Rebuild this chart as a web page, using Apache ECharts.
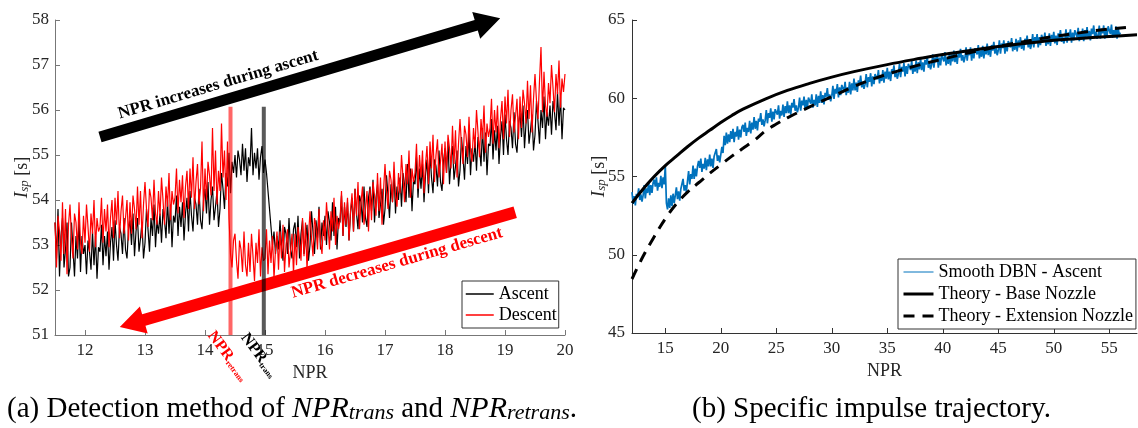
<!DOCTYPE html>
<html><head><meta charset="utf-8">
<script src="https://cdn.jsdelivr.net/npm/echarts@6/dist/echarts.min.js"></script>
<style>html,body{margin:0;padding:0;background:#fff;}#c{width:1138px;height:428px;}</style>
</head><body><div id="c"></div>
<script>
// ---------- data ----------
// (a) left panel: sampled every 0.025 NPR from 11.5 to 20
const nprLeftStart = 11.5;
const nprLeftStep = 0.025;
const ascentIsp = [
53.5,52.7,53.8,52.3,53.2,53.6,52.5,52.9,53.5,52.3,
52.5,53.5,52.9,52.3,53.2,52.7,53.6,52.4,53.2,52.8,
53.0,52.35,53.1,52.85,52.45,53.3,52.55,53.2,52.25,52.95,
52.85,53.45,52.55,53.2,52.75,53.3,52.45,53.05,53.4,52.65,
53.55,53.0,52.65,53.4,53.25,52.8,53.6,52.9,52.7,53.35,
53.55,53.0,53.7,52.75,53.3,53.6,52.85,53.15,53.5,52.7,
53.05,53.8,53.35,52.85,53.6,53.2,53.9,52.95,53.55,53.25,
53.7,53.05,53.8,53.55,53.15,54.0,53.25,53.9,52.95,53.65,
53.5,54.1,53.2,53.85,53.4,53.95,53.1,53.7,54.05,53.3,
54.2,53.65,53.3,54.05,53.9,53.45,54.25,53.55,53.35,54.0,
54.25,53.7,54.4,53.45,54.0,54.3,53.55,53.85,54.2,53.4,
53.8,54.6,54.25,53.8,54.6,54.3,55.05,54.15,54.85,54.6,
55.0,54.5,55.1,54.9,54.55,55.25,54.65,55.15,54.4,54.95,
54.75,55.6,54.55,55.05,54.7,55.15,54.45,54.95,55.2,54.6,
54.9,54.6,54.2,53.8,53.4,53.0,53.3,52.8,53.2,52.9,
53.55,53.0,52.65,53.4,53.25,52.8,53.6,52.9,52.7,53.35,
53.5,52.95,53.65,52.7,53.25,53.55,52.8,53.1,53.45,52.65,
53.0,53.75,53.3,52.8,53.55,53.15,53.85,52.9,53.5,53.2,
53.65,53.0,53.75,53.5,53.1,53.95,53.2,53.85,52.9,53.6,
53.5,54.1,53.2,53.85,53.4,53.95,53.1,53.7,54.05,53.3,
54.25,53.7,53.35,54.1,53.95,53.5,54.3,53.6,53.4,54.05,
54.3,53.75,54.45,53.5,54.05,54.35,53.6,53.9,54.25,53.45,
53.8,54.55,54.1,53.6,54.35,53.95,54.65,53.7,54.3,54.0,
54.5,53.85,54.6,54.35,53.95,54.8,54.05,54.7,53.75,54.45,
54.35,54.95,54.05,54.7,54.25,54.8,53.95,54.55,54.9,54.15,
55.05,54.5,54.15,54.9,54.75,54.3,55.1,54.4,54.2,54.85,
55.15,54.6,55.3,54.35,54.9,55.2,54.45,54.75,55.1,54.3,
54.65,55.4,54.95,54.45,55.2,54.8,55.5,54.55,55.15,54.85,
55.3,54.65,55.4,55.15,54.75,55.6,54.85,55.5,54.55,55.25,
55.2,55.8,54.9,55.55,55.1,55.65,54.8,55.4,55.75,55.0,
55.9,55.35,55.0,55.75,55.6,55.15,55.95,55.25,55.05,55.7,
55.95,55.4,56.1,55.15,55.7,56.0,55.25,55.55,55.9,55.1,
55.45,56.2,55.75,55.25,56.0,55.6,56.3,55.35,55.95,55.65,
56.1,55.45,56.2,55.95,55.55,56.4,55.65,56.3,55.35,56.05,
56.0];
const descentIsp = [
53.5,52.5,53.65,53.3,52.65,53.95,52.8,53.8,52.35,53.45,
53.9,53.15,52.7,53.7,53.5,52.9,53.95,53.05,52.8,53.65,
53.05,53.9,53.4,52.85,53.7,53.25,54.0,52.95,53.6,53.3,
53.4,54.05,53.05,53.8,53.3,53.9,52.95,53.6,54.0,53.15,
54.05,53.45,54.2,53.15,53.75,54.1,53.25,53.6,54.0,53.1,
53.95,53.25,54.1,53.8,53.35,54.3,53.45,54.2,53.15,53.9,
54.4,53.8,53.4,54.25,54.05,53.55,54.45,53.7,53.45,54.2,
53.65,54.5,54.0,53.45,54.3,53.85,54.6,53.55,54.2,53.9,
54.05,54.7,53.7,54.45,53.95,54.55,53.6,54.3,54.65,53.8,
54.7,54.05,54.95,53.8,54.4,54.8,53.9,54.25,55.3,53.75,
54.7,54.0,54.85,54.55,54.1,55.6,54.2,55.1,53.9,54.65,
54.2,55.7,54.5,55.1,54.0,55.3,53.6,52.8,52.5,53.1,
53.25,52.65,52.25,53.1,52.9,52.4,53.3,52.55,52.3,53.05,
52.4,53.25,52.75,52.2,53.05,52.6,53.35,52.3,52.95,52.65,
52.7,53.35,52.35,53.1,52.6,53.2,52.25,52.9,53.3,52.45,
53.3,52.7,53.45,52.4,53.0,53.35,52.5,52.85,53.25,52.35,
53.25,52.55,53.4,53.1,52.65,53.6,52.75,53.5,52.45,53.2,
53.75,53.15,52.75,53.6,53.4,52.9,53.8,53.05,52.8,53.55,
53.1,53.95,53.45,52.9,53.75,53.3,54.05,53.0,53.65,53.35,
53.55,54.2,53.2,53.95,53.45,54.05,53.1,53.75,54.15,53.3,
54.25,53.65,54.4,53.35,53.95,54.3,53.45,53.8,54.2,53.3,
54.25,53.55,54.4,54.1,53.65,54.6,53.75,54.5,53.45,54.2,
54.8,54.2,53.8,54.65,54.45,53.95,54.85,54.1,53.85,54.6,
54.15,55.0,54.5,53.95,54.8,54.35,55.1,54.05,54.7,54.4,
54.6,55.25,54.25,55.0,54.5,55.1,54.15,54.8,55.2,54.35,
55.3,54.7,55.45,54.4,55.0,55.35,54.5,54.85,55.25,54.35,
55.3,54.6,55.45,55.15,54.7,55.65,54.8,55.55,54.5,55.25,
55.8,55.2,54.8,55.65,55.45,54.95,55.85,55.1,54.85,55.6,
55.15,56.0,55.5,54.95,55.8,55.35,56.1,55.05,55.7,55.4,
55.6,56.25,55.25,56.0,55.5,56.1,55.15,55.8,56.2,55.35,
56.3,55.7,56.45,55.4,56.0,56.35,55.5,55.85,56.25,55.35,
56.3,55.6,56.45,56.15,55.7,56.65,55.8,56.55,55.5,56.25,
56.8,56.2,55.8,56.65,57.4,55.95,56.85,56.1,55.85,56.6,
56.15,57.0,56.5,55.95,56.8,56.35,57.1,56.05,56.7,56.4,
56.8];
const nprTrans = 14.98;
const nprRetrans = 14.425;
const markerIspRange = [51, 56.07];
const leftXTicks = [12,13,14,15,16,17,18,19,20];
// annotation arrows (data coordinates: [NPR, Isp])
const ascentArrow = [[12.25,55.4],[18.92,58.04]];
const descentArrow = [[19.17,53.73],[12.58,51.18]];
const ascentTextAt = [14.22,56.56];
const descentTextAt = [17.2,52.6];

// (b) right panel: sampled every 0.1 NPR from 12 to 56
const nprRightStart = 12;
const nprRightStep = 0.1;
const dbnIsp = [
54.0,53.25,53.75,53.15,53.9,53.7,54.25,53.5,53.85,53.4,
53.8,54.45,53.6,54.25,53.95,54.65,53.8,54.45,53.95,54.6,
54.8,54.35,54.95,54.1,54.6,54.35,55.05,54.25,54.95,54.5,
55.7,53.3,52.9,53.6,53.0,53.8,53.1,53.9,53.3,53.8,
54.3,53.55,54.05,53.45,54.2,54.3,54.85,54.1,54.45,54.0,
54.7,55.35,54.5,55.15,54.85,55.7,54.85,55.5,55.0,55.65,
56.0,55.55,56.15,55.3,55.8,55.5,56.2,55.4,56.1,55.65,
56.4,55.65,56.15,55.55,56.3,56.2,56.75,56.0,56.35,55.9,
56.4,56.9,56.5,57.6,57.0,57.8,57.1,57.7,57.2,57.9,
57.4,58.05,57.2,57.85,57.55,58.2,57.35,58.0,57.5,58.15,
58.3,57.85,58.45,57.6,58.1,57.85,58.55,57.75,58.45,58.0,
58.8,58.05,58.55,57.95,58.7,58.5,59.05,58.3,58.65,58.2,
58.6,59.25,58.4,59.05,58.75,59.35,58.5,59.15,58.65,59.3,
59.4,58.95,59.55,58.7,59.2,58.9,59.6,58.8,59.5,59.05,
59.8,59.05,59.55,58.95,59.7,59.4,59.95,59.2,59.55,59.1,
59.4,60.05,59.2,59.85,59.55,60.1,59.25,59.9,59.4,60.05,
60.1,59.65,60.25,59.4,59.9,59.55,60.25,59.45,60.15,59.7,
60.45,59.7,60.2,59.6,60.35,60.1,60.65,59.9,60.25,59.8,
60.15,60.8,59.95,60.6,60.3,60.9,60.05,60.7,60.2,60.85,
60.9,60.45,61.05,60.2,60.7,60.35,61.05,60.25,60.95,60.5,
61.25,60.5,61.0,60.4,61.15,60.9,61.45,60.7,61.05,60.6,
60.9,61.55,60.7,61.35,61.05,61.6,60.75,61.4,60.9,61.55,
61.65,61.2,61.8,60.95,61.45,61.1,61.8,61.0,61.7,61.25,
61.95,61.2,61.7,61.1,61.85,61.55,62.1,61.35,61.7,61.25,
61.55,62.2,61.35,62.0,61.7,62.25,61.4,62.05,61.55,62.2,
62.25,61.8,62.4,61.55,62.05,61.7,62.4,61.6,62.3,61.85,
62.55,61.8,62.3,61.7,62.45,62.15,62.7,61.95,62.3,61.85,
62.15,62.8,61.95,62.6,62.3,62.8,61.95,62.6,62.1,62.75,
62.8,62.35,62.95,62.1,62.6,62.2,62.9,62.1,62.8,62.35,
63.05,62.3,62.8,62.2,62.95,62.6,63.15,62.4,62.75,62.3,
62.6,63.25,62.4,63.05,62.75,63.25,62.4,63.05,62.55,63.2,
63.25,62.8,63.4,62.55,63.05,62.65,63.35,62.55,63.25,62.8,
63.5,62.75,63.25,62.65,63.4,63.05,63.6,62.85,63.2,62.75,
63.05,63.7,62.85,63.5,63.2,63.7,62.85,63.5,63.0,63.65,
63.7,63.25,63.85,63.0,63.5,63.1,63.8,63.0,63.7,63.25,
63.9,63.15,63.65,63.05,63.8,63.45,64.0,63.25,63.6,63.15,
63.45,64.1,63.25,63.9,63.6,64.1,63.25,63.9,63.4,64.05,
64.05,63.6,64.2,63.35,63.85,63.45,64.15,63.35,64.05,63.6,
64.25,63.5,64.0,63.4,64.15,63.8,64.35,63.6,63.95,63.5,
63.75,64.4,63.55,64.2,63.9,64.4,63.55,64.2,63.7,64.35,
64.35,63.9,64.5,63.65,64.15,63.75,64.45,63.65,64.35,63.9,
64.55,63.8,64.3,63.7,64.45,64.1,64.65,63.9,64.25,63.8,
64.0,64.65,63.8,64.45,64.15,64.65,63.8,64.45,63.95,64.6,
64.55,64.1,64.7,63.85,64.35,63.9,64.6,63.8,64.5,64.05,
64.2];
const baseNpr = [12,13,14,15,16,17,18,19,20,21,22,24,26,28,30,32,35,38,40,42,45,48,50,52,55,57.5];
const baseIsp = [53.3,54.2,55.0,55.7,56.3,56.9,57.45,57.95,58.45,58.9,59.3,59.95,60.5,60.95,61.35,61.7,62.15,62.55,62.8,63.0,63.3,63.55,63.7,63.8,63.95,64.05];
const extNpr = [12,13,14,15,16,17,18,19,20,21,22,23,24,25,26,28,30,32,34,36,38,40,42,44,46,48,50,52,54,56.9];
const extIsp = [48.45,49.9,51.15,52.3,53.25,54.0,54.6,55.2,55.75,56.3,56.8,57.3,57.9,58.35,58.75,59.45,60.1,60.75,61.3,61.75,62.15,62.5,62.85,63.15,63.45,63.7,63.95,64.15,64.35,64.55];
const rightXTicks = [15,20,25,30,35,40,45,50,55];

// ---------- chart ----------
const serif = 'Liberation Serif';
const chart = echarts.init(document.getElementById('c'));
const pairs = (start, step, arr) => arr.map((v, i) => [Math.round((start + i * step) * 1000) / 1000, v]);
const zip = (xs, ys) => xs.map((x, i) => [x, ys[i]]);

const axisLbl = (ticks) => ({customValues: ticks, color: '#262626', fontFamily: serif, fontSize: 17, margin: 7});
const lineCol = ['#777', '#333'];

const option = {
  animation: false,
  backgroundColor: '#fff',
  grid: [
    {left: 55, top: 20, width: 510, height: 315},
    {left: 632, top: 20, width: 505, height: 313}
  ],
  xAxis: [
    {gridIndex: 0, type: 'value', min: 11.5, max: 20,
     name: 'NPR', nameLocation: 'middle', nameGap: 28,
     nameTextStyle: {fontFamily: serif, fontSize: 18, color: '#262626'},
     axisLine: {show: true, lineStyle: {color: lineCol[0]}},
     axisTick: {show: true, inside: true, length: 5, customValues: leftXTicks, lineStyle: {color: lineCol[0]}},
     axisLabel: axisLbl(leftXTicks), splitLine: {show: false}},
    {gridIndex: 1, type: 'value', min: 12, max: 57.5,
     name: 'NPR', nameLocation: 'middle', nameGap: 28,
     nameTextStyle: {fontFamily: serif, fontSize: 18, color: '#262626'},
     axisLine: {show: true, lineStyle: {color: lineCol[1]}},
     axisTick: {show: true, inside: true, length: 5, customValues: rightXTicks, lineStyle: {color: lineCol[1]}},
     axisLabel: axisLbl(rightXTicks), splitLine: {show: false}}
  ],
  yAxis: [
    {gridIndex: 0, type: 'value', min: 51, max: 58, interval: 1,
     axisLine: {show: true, lineStyle: {color: lineCol[0]}},
     axisTick: {show: true, inside: true, length: 5, lineStyle: {color: lineCol[0]}},
     axisLabel: {color: '#262626', fontFamily: serif, fontSize: 17, margin: 6}, splitLine: {show: false}},
    {gridIndex: 1, type: 'value', min: 45, max: 65, interval: 5,
     axisLine: {show: true, lineStyle: {color: lineCol[1]}},
     axisTick: {show: true, inside: true, length: 5, lineStyle: {color: lineCol[1]}},
     axisLabel: {color: '#262626', fontFamily: serif, fontSize: 17, margin: 7}, splitLine: {show: false}}
  ],
  legend: [
    {data: [{name: 'Ascent', lineStyle: {width: 1.5}}, {name: 'Descent', lineStyle: {width: 1.5}}],
     orient: 'vertical', left: 462, top: 281, itemWidth: 28, itemHeight: 14, itemGap: 3,
     padding: [4, 2, 4, 3], borderColor: '#333', borderWidth: 1, backgroundColor: '#fff',
     itemStyle: {opacity: 0}, selectedMode: false,
     textStyle: {fontFamily: serif, fontSize: 18, color: '#000'}},
    {data: [{name: 'Smooth DBN - Ascent', lineStyle: {width: 1}},
            {name: 'Theory - Base Nozzle', lineStyle: {width: 3}},
            {name: 'Theory - Extension Nozzle', lineStyle: {width: 3}}],
     orient: 'vertical', left: 898, top: 259, itemWidth: 30, itemHeight: 14, itemGap: 4,
     padding: [4, 3, 4, 4], borderColor: '#333', borderWidth: 1, backgroundColor: '#fff',
     itemStyle: {opacity: 0}, selectedMode: false,
     textStyle: {fontFamily: serif, fontSize: 18, color: '#000'}}
  ],
  series: [
    {name: 'Ascent', type: 'line', xAxisIndex: 0, yAxisIndex: 0, symbol: 'none', color: '#000',
     lineStyle: {color: '#000', width: 1.2}, data: pairs(nprLeftStart, nprLeftStep, ascentIsp)},
    {name: 'Descent', type: 'line', xAxisIndex: 0, yAxisIndex: 0, symbol: 'none', color: '#ff0000',
     lineStyle: {color: '#ff0000', width: 1.2}, data: pairs(nprLeftStart, nprLeftStep, descentIsp)},
    {name: 'NPR_trans', type: 'line', xAxisIndex: 0, yAxisIndex: 0, symbol: 'none', z: 20,
     lineStyle: {color: 'rgba(0,0,0,0.65)', width: 4}, data: markerIspRange.map(v => [nprTrans, v])},
    {name: 'NPR_retrans', type: 'line', xAxisIndex: 0, yAxisIndex: 0, symbol: 'none', z: 20,
     lineStyle: {color: 'rgba(255,0,0,0.6)', width: 4}, data: markerIspRange.map(v => [nprRetrans, v])},
    {name: 'Smooth DBN - Ascent', type: 'line', xAxisIndex: 1, yAxisIndex: 1, symbol: 'none', color: '#0072BD',
     lineStyle: {color: '#0072BD', width: 1.7}, data: pairs(nprRightStart, nprRightStep, dbnIsp)},
    {name: 'Theory - Base Nozzle', type: 'line', xAxisIndex: 1, yAxisIndex: 1, symbol: 'none', smooth: 0.4, color: '#000',
     lineStyle: {color: '#000', width: 3}, data: zip(baseNpr, baseIsp)},
    {name: 'Theory - Extension Nozzle', type: 'line', xAxisIndex: 1, yAxisIndex: 1, symbol: 'none', smooth: 0.4, color: '#000',
     lineStyle: {color: '#000', width: 3, type: [11, 8]}, data: zip(extNpr, extIsp)}
  ]
};
chart.setOption(option);

// ---------- annotations anchored to the data coordinates ----------
const toPx = (g, p) => chart.convertToPixel({gridIndex: g}, p);
function arrowPoly(p0, p1, halfT, headLen, headHalf) {
  const dx = p1[0] - p0[0], dy = p1[1] - p0[1];
  const L = Math.hypot(dx, dy), ux = dx / L, uy = dy / L, nx = -uy, ny = ux;
  const bx = p1[0] - ux * headLen, by = p1[1] - uy * headLen;
  return [[p0[0] + nx * halfT, p0[1] + ny * halfT], [bx + nx * halfT, by + ny * halfT],
          [bx + nx * headHalf, by + ny * headHalf], [p1[0], p1[1]],
          [bx - nx * headHalf, by - ny * headHalf], [bx - nx * halfT, by - ny * halfT],
          [p0[0] - nx * halfT, p0[1] - ny * halfT]];
}
const a0 = toPx(0, ascentArrow[0]), a1 = toPx(0, ascentArrow[1]);
const d0 = toPx(0, descentArrow[0]), d1 = toPx(0, descentArrow[1]);
const angA = Math.atan2(-(a1[1] - a0[1]), a1[0] - a0[0]);
const angD = Math.atan2(-(d0[1] - d1[1]), d0[0] - d1[0]);
const at = toPx(0, ascentTextAt), dt = toPx(0, descentTextAt);
const rb = toPx(0, [nprRetrans, 51]), tb = toPx(0, [nprTrans, 51]);
const ylL = toPx(0, [11.5, 54.5]), ylR = toPx(1, [12, 55]);

const subRich = (fill) => ({
  a: {fontFamily: serif, fontWeight: 'bold', fontSize: 16, fill: fill, lineHeight: 18, verticalAlign: 'bottom'},
  b: {fontFamily: serif, fontWeight: 'bold', fontSize: 8, fill: fill, lineHeight: 6, verticalAlign: 'bottom'}
});
const ylabRich = {
  i: {fontFamily: serif, fontStyle: 'italic', fontSize: 19, fill: '#262626', lineHeight: 22, verticalAlign: 'bottom'},
  s: {fontFamily: serif, fontStyle: 'italic', fontSize: 13, fill: '#262626', lineHeight: 10, verticalAlign: 'bottom'},
  n: {fontFamily: serif, fontSize: 18, fill: '#262626', lineHeight: 22, verticalAlign: 'bottom'}
};
const capRich = {
  n: {fontFamily: serif, fontSize: 29, fill: '#000', lineHeight: 32, verticalAlign: 'bottom'},
  i: {fontFamily: serif, fontStyle: 'italic', fontSize: 30, fill: '#000', lineHeight: 32, verticalAlign: 'bottom'},
  s: {fontFamily: serif, fontStyle: 'italic', fontSize: 22, fill: '#000', lineHeight: 10, verticalAlign: 'bottom'}
};

chart.setOption({
  graphic: [
    {type: 'polygon', z: 10, shape: {points: arrowPoly(a0, a1, 5.5, 25, 14)}, style: {fill: '#000'}},
    {type: 'polygon', z: 10, shape: {points: arrowPoly(d0, d1, 6, 25, 14)}, style: {fill: '#ff0000'}},
    {type: 'text', z: 11, x: at[0], y: at[1], rotation: angA,
     style: {text: 'NPR increases during ascent', fontFamily: serif, fontWeight: 'bold', fontSize: 17, fill: '#000', align: 'center', verticalAlign: 'middle'}},
    {type: 'text', z: 11, x: dt[0], y: dt[1], rotation: angD,
     style: {text: 'NPR decreases during descent', fontFamily: serif, fontWeight: 'bold', fontSize: 17, fill: '#ff0000', align: 'center', verticalAlign: 'middle'}},
    {type: 'text', z: 11, x: rb[0] - 12, y: rb[1] - 8, rotation: -53 * Math.PI / 180,
     style: {text: '{a|NPR}{b|retrans}', rich: subRich('#ff0000'), align: 'left', verticalAlign: 'top'}},
    {type: 'text', z: 11, x: tb[0] - 12, y: tb[1] - 6, rotation: -53 * Math.PI / 180,
     style: {text: '{a|NPR}{b|trans}', rich: subRich('#000'), align: 'left', verticalAlign: 'top'}},
    {type: 'text', x: 20, y: ylL[1], rotation: Math.PI / 2,
     style: {text: '{i|I}{s|sp}{n| [s]}', rich: ylabRich, align: 'center', verticalAlign: 'middle'}},
    {type: 'text', x: 597, y: ylR[1], rotation: Math.PI / 2,
     style: {text: '{i|I}{s|sp}{n| [s]}', rich: ylabRich, align: 'center', verticalAlign: 'middle'}},
    {type: 'text', x: 7, y: 408,
     style: {text: '{n|(a) Detection method of }{i|NPR}{s|trans}{n| and }{i|NPR}{s|retrans}{n|.}', rich: capRich, align: 'left', verticalAlign: 'middle'}},
    {type: 'text', x: 692, y: 408,
     style: {text: '{n|(b) Specific impulse trajectory.}', rich: capRich, align: 'left', verticalAlign: 'middle'}}
  ]
});
</script>
</body></html>
